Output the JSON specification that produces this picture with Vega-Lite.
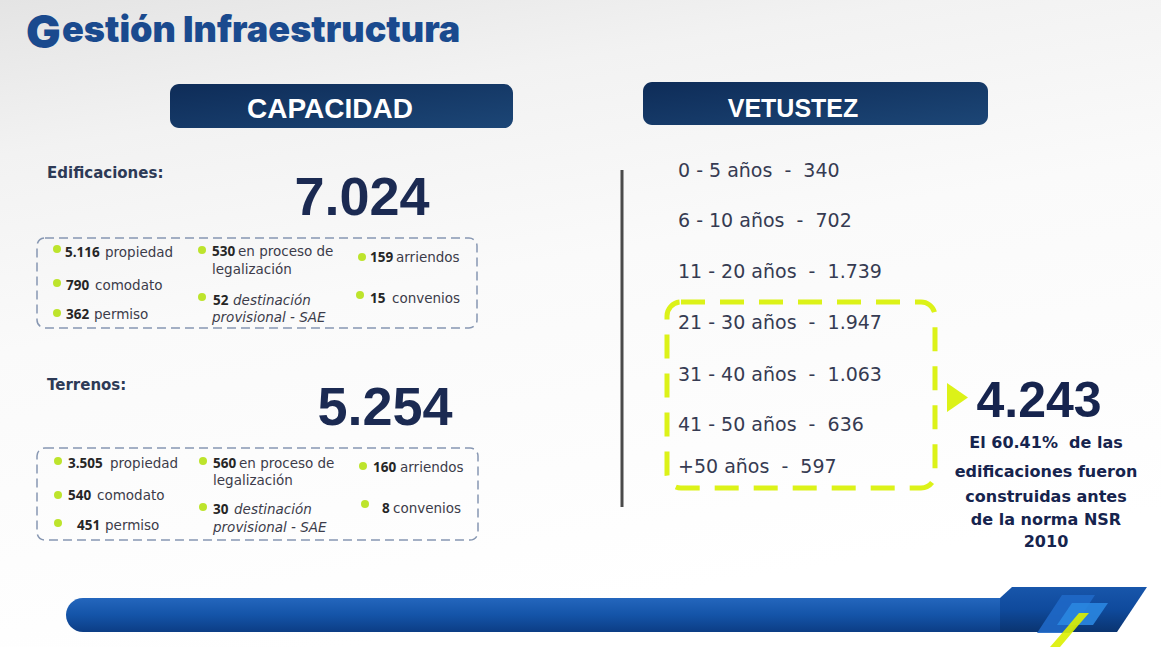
{
  "$schema": "https://vega.github.io/schema/vega-lite/v6.json",
  "width": 1161,
  "height": 647,
  "padding": 0,
  "autosize": {"type": "none"},
  "background": "#fbfbfb",
  "config": {"view": {"stroke": null}},
  "datasets": {
    "bg": [{"x": 0, "x2": 1161, "y": 0, "y2": 647}],
    "hdrBoxes": [{"x": 170, "x2": 513, "y": 84, "y2": 128}, {"x": 643, "x2": 988, "y": 82, "y2": 125}],
    "hdrA": [{"x": 330, "y": 118, "t": "CAPACIDAD"}],
    "hdrB": [{"x": 793, "y": 117, "t": "VETUSTEZ"}],
    "titleG": [{"x": 26, "y": 48, "t": "G"}],
    "titleRest": [{"x": 62, "y": 42, "t": "estión Infraestructura"}],
    "sections": [{"x": 47, "y": 178, "t": "Edificaciones:"}, {"x": 47, "y": 390, "t": "Terrenos:"}],
    "big": [{"x": 362, "y": 215, "t": "7.024"}, {"x": 385, "y": 425, "t": "5.254"}],
    "big2": [{"x": 1039, "y": 417, "t": "4.243"}],
    "grayBoxes": [{"x": 37, "x2": 477, "y": 238, "y2": 328}, {"x": 37, "x2": 478, "y": 448, "y2": 540}],
    "limeBox": [{"x": 667, "x2": 935, "y": 302, "y2": 488}],
    "bullets": [
      {"x": 57, "y": 249}, {"x": 57, "y": 283}, {"x": 57, "y": 313}, {"x": 202, "y": 250}, {"x": 202, "y": 297}, {"x": 362, "y": 257}, {"x": 360, "y": 295},
      {"x": 58, "y": 461}, {"x": 58, "y": 495}, {"x": 58, "y": 523}, {"x": 203, "y": 461}, {"x": 203, "y": 507}, {"x": 363, "y": 466}, {"x": 365, "y": 504}
    ],
    "nums": [
      {"x": 65, "y": 257, "t": "5.116"}, {"x": 66, "y": 290, "t": "790"}, {"x": 66, "y": 319, "t": "362"}, {"x": 212, "y": 256, "t": "530"}, {"x": 213, "y": 305, "t": "52"}, {"x": 370, "y": 262, "t": "159"}, {"x": 370, "y": 303, "t": "15"},
      {"x": 68, "y": 468, "t": "3.505"}, {"x": 68, "y": 500, "t": "540"}, {"x": 77, "y": 530, "t": "451"}, {"x": 213, "y": 468, "t": "560"}, {"x": 213, "y": 514, "t": "30"}, {"x": 373, "y": 472, "t": "160"}, {"x": 382, "y": 513, "t": "8"}
    ],
    "words": [
      {"x": 105, "y": 257, "t": "propiedad"}, {"x": 95, "y": 290, "t": "comodato"}, {"x": 94, "y": 319, "t": "permiso"}, {"x": 238, "y": 256, "t": "en proceso de"}, {"x": 212, "y": 274, "t": "legalización"}, {"x": 396, "y": 262, "t": "arriendos"}, {"x": 392, "y": 303, "t": "convenios"},
      {"x": 110, "y": 468, "t": "propiedad"}, {"x": 97, "y": 500, "t": "comodato"}, {"x": 105, "y": 530, "t": "permiso"}, {"x": 239, "y": 468, "t": "en proceso de"}, {"x": 213, "y": 485, "t": "legalización"}, {"x": 400, "y": 472, "t": "arriendos"}, {"x": 393, "y": 513, "t": "convenios"}
    ],
    "italics": [
      {"x": 233, "y": 305, "t": "destinación"}, {"x": 212, "y": 322, "t": "provisional - SAE"},
      {"x": 234, "y": 514, "t": "destinación"}, {"x": 213, "y": 532, "t": "provisional - SAE"}
    ],
    "vet": [
      {"x": 678, "y": 177, "t": "0 - 5 años\u00a0 -\u00a0 340"},
      {"x": 678, "y": 227, "t": "6 - 10 años\u00a0 -\u00a0 702"},
      {"x": 678, "y": 278, "t": "11 - 20 años\u00a0 -\u00a0 1.739"},
      {"x": 678, "y": 329, "t": "21 - 30 años\u00a0 -\u00a0 1.947"},
      {"x": 678, "y": 381, "t": "31 - 40 años\u00a0 -\u00a0 1.063"},
      {"x": 678, "y": 431, "t": "41 - 50 años\u00a0 -\u00a0 636"},
      {"x": 678, "y": 473, "t": "+50 años\u00a0 -\u00a0 597"}
    ],
    "para": [
      {"x": 1046, "y": 448, "t": "El 60.41%\u00a0 de las"},
      {"x": 1046, "y": 477, "t": "edificaciones fueron"},
      {"x": 1046, "y": 502, "t": "construidas antes"},
      {"x": 1046, "y": 525, "t": "de la norma NSR"},
      {"x": 1046, "y": 547, "t": "2010"}
    ],
    "divider": [{"x": 622, "y": 170, "y2": 507}],
    "arrow": [{"x": 947, "y": 383, "y2": 412}, {"x": 968, "y": 397.5, "y2": 397.5}],
    "bar": [{"x": 66, "x2": 1040, "y": 598, "y2": 632}],
    "barEnd": [{"x": 1000, "y": 598, "y2": 632}, {"x": 1012, "y": 587, "y2": 632}, {"x": 1117, "y": 587, "y2": 632}, {"x": 1147, "y": 587, "y2": 587}],
    "logo": [
      {"s": "a", "x": 1037, "y": 633, "y2": 633}, {"s": "a", "x": 1062, "y": 595, "y2": 633}, {"s": "a", "x": 1070, "y": 595, "y2": 633}, {"s": "a", "x": 1095, "y": 595, "y2": 595},
      {"s": "b", "x": 1057, "y": 625, "y2": 625}, {"s": "b", "x": 1072, "y": 603, "y2": 625}, {"s": "b", "x": 1093, "y": 603, "y2": 625}, {"s": "b", "x": 1108, "y": 603, "y2": 603},
      {"s": "c", "x": 1050, "y": 647, "y2": 647}, {"s": "c", "x": 1060, "y": 635.4, "y2": 647}, {"s": "c", "x": 1079, "y": 613, "y2": 624.6}, {"s": "c", "x": 1089, "y": 613, "y2": 613}
    ]
  },
  "encoding": {
    "x": {"field": "x", "type": "quantitative", "scale": {"domain": [0, 1161], "nice": false, "zero": false}, "axis": null},
    "y": {"field": "y", "type": "quantitative", "scale": {"domain": [0, 647], "reverse": true, "nice": false, "zero": false}, "axis": null}
  },
  "layer": [
    {
      "data": {"name": "bg"},
      "mark": {"type": "rect", "fill": {"gradient": "linear", "x1": 0, "y1": 0, "x2": 0.3, "y2": 1, "stops": [{"offset": 0, "color": "#e4e4e4"}, {"offset": 0.22, "color": "#f2f2f2"}, {"offset": 0.5, "color": "#fafafa"}, {"offset": 1, "color": "#ffffff"}]}},
      "encoding": {"x2": {"field": "x2"}, "y2": {"field": "y2"}}
    },
    {
      "data": {"name": "hdrBoxes"},
      "mark": {"type": "rect", "cornerRadius": 9, "fill": {"gradient": "linear", "x1": 0, "y1": 0, "x2": 1, "y2": 1, "stops": [{"offset": 0, "color": "#0e2c58"}, {"offset": 1, "color": "#1c4676"}]}},
      "encoding": {"x2": {"field": "x2"}, "y2": {"field": "y2"}}
    },
    {
      "data": {"name": "hdrA"},
      "mark": {"type": "text", "font": "Liberation Sans", "fontWeight": "bold", "fontSize": 28, "fill": "#ffffff", "align": "center", "baseline": "alphabetic"},
      "encoding": {"text": {"field": "t"}}
    },
    {
      "data": {"name": "hdrB"},
      "mark": {"type": "text", "font": "Liberation Sans", "fontWeight": "bold", "fontSize": 25, "fill": "#ffffff", "align": "center", "baseline": "alphabetic"},
      "encoding": {"text": {"field": "t"}}
    },
    {
      "data": {"name": "titleG"},
      "mark": {"type": "text", "font": "Inter", "fontWeight": 900, "fontSize": 46, "fill": "#1a4a8e", "align": "left", "baseline": "alphabetic"},
      "encoding": {"text": {"field": "t"}}
    },
    {
      "data": {"name": "titleRest"},
      "mark": {"type": "text", "font": "Inter", "fontWeight": 900, "fontSize": 36, "fill": "#1a4a8e", "align": "left", "baseline": "alphabetic"},
      "encoding": {"text": {"field": "t"}}
    },
    {
      "data": {"name": "sections"},
      "mark": {"type": "text", "font": "DejaVu Sans", "fontWeight": "bold", "fontSize": 15, "fill": "#2d3a56", "align": "left", "baseline": "alphabetic"},
      "encoding": {"text": {"field": "t"}}
    },
    {
      "data": {"name": "big"},
      "mark": {"type": "text", "font": "Liberation Sans", "fontWeight": "bold", "fontSize": 54, "fill": "#1b2a52", "align": "center", "baseline": "alphabetic"},
      "encoding": {"text": {"field": "t"}}
    },
    {
      "data": {"name": "big2"},
      "mark": {"type": "text", "font": "Liberation Sans", "fontWeight": "bold", "fontSize": 50, "fill": "#16244e", "align": "center", "baseline": "alphabetic"},
      "encoding": {"text": {"field": "t"}}
    },
    {
      "data": {"name": "grayBoxes"},
      "mark": {"type": "rect", "cornerRadius": 8, "fill": null, "fillOpacity": 0, "stroke": "#8797b2", "strokeWidth": 1.5, "strokeDash": [9, 5]},
      "encoding": {"x2": {"field": "x2"}, "y2": {"field": "y2"}}
    },
    {
      "data": {"name": "limeBox"},
      "mark": {"type": "rect", "cornerRadius": 14, "fill": null, "fillOpacity": 0, "stroke": "#dcf218", "strokeWidth": 5, "strokeDash": [24, 15]},
      "encoding": {"x2": {"field": "x2"}, "y2": {"field": "y2"}}
    },
    {
      "data": {"name": "bullets"},
      "mark": {"type": "point", "shape": "circle", "filled": true, "size": 64, "color": "#bde42c", "opacity": 1},
      "encoding": {}
    },
    {
      "data": {"name": "nums"},
      "mark": {"type": "text", "font": "Open Sans", "fontWeight": "bold", "fontSize": 13.5, "fill": "#262626", "align": "left", "baseline": "alphabetic"},
      "encoding": {"text": {"field": "t"}}
    },
    {
      "data": {"name": "words"},
      "mark": {"type": "text", "font": "DejaVu Sans", "fontSize": 13.5, "fill": "#3c3c4a", "align": "left", "baseline": "alphabetic"},
      "encoding": {"text": {"field": "t"}}
    },
    {
      "data": {"name": "italics"},
      "mark": {"type": "text", "font": "DejaVu Sans", "fontStyle": "italic", "fontSize": 13.5, "fill": "#3c3c4a", "align": "left", "baseline": "alphabetic"},
      "encoding": {"text": {"field": "t"}}
    },
    {
      "data": {"name": "vet"},
      "mark": {"type": "text", "font": "DejaVu Sans", "fontSize": 19, "fill": "#363b52", "align": "left", "baseline": "alphabetic"},
      "encoding": {"text": {"field": "t"}}
    },
    {
      "data": {"name": "para"},
      "mark": {"type": "text", "font": "DejaVu Sans", "fontWeight": "bold", "fontSize": 16, "fill": "#16244e", "align": "center", "baseline": "alphabetic"},
      "encoding": {"text": {"field": "t"}}
    },
    {
      "data": {"name": "divider"},
      "mark": {"type": "rule", "color": "#4a4a4a", "strokeWidth": 3},
      "encoding": {"y2": {"field": "y2"}}
    },
    {
      "data": {"name": "arrow"},
      "mark": {"type": "area", "color": "#dcf218", "opacity": 1},
      "encoding": {"y": {"field": "y", "type": "quantitative", "stack": null}, "y2": {"field": "y2"}}
    },
    {
      "data": {"name": "bar"},
      "mark": {"type": "rect", "cornerRadius": 17, "fill": {"gradient": "linear", "x1": 0, "y1": 0, "x2": 0, "y2": 1, "stops": [{"offset": 0, "color": "#2466bd"}, {"offset": 0.5, "color": "#1454a8"}, {"offset": 1, "color": "#0c3d85"}]}},
      "encoding": {"x2": {"field": "x2"}, "y2": {"field": "y2"}}
    },
    {
      "data": {"name": "barEnd"},
      "mark": {"type": "area", "opacity": 1, "fill": {"gradient": "linear", "x1": 0, "y1": 0, "x2": 0, "y2": 1, "stops": [{"offset": 0, "color": "#1856ab"}, {"offset": 0.5, "color": "#0f4a9c"}, {"offset": 1, "color": "#0a3470"}]}},
      "encoding": {"y": {"field": "y", "type": "quantitative", "stack": null}, "y2": {"field": "y2"}}
    },
    {
      "data": {"name": "logo"},
      "mark": {"type": "area", "opacity": 0.9},
      "encoding": {
        "y": {"field": "y", "type": "quantitative", "stack": null},
        "y2": {"field": "y2"},
        "detail": {"field": "s"},
        "color": {"field": "s", "type": "nominal", "scale": {"domain": ["a", "b", "c"], "range": ["#1f68c6", "#2a86e0", "#dcf000"]}, "legend": null}
      }
    }
  ]
}
